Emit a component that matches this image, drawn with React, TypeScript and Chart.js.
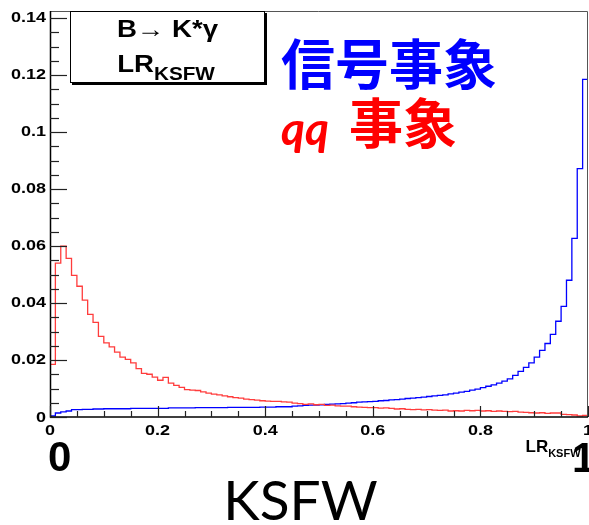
import React, { useEffect, useRef } from "react";
import { Chart, registerables } from "chart.js";

Chart.register(...registerables);

// ---- data (100 bins on [0,1]) ----
const binWidth = 0.01;

const signalValues = [
  0.0004, 0.0014, 0.0018, 0.0021, 0.0026, 0.0026, 0.0027, 0.0027, 0.0028, 0.0028,
  0.0029, 0.0029, 0.0029, 0.0029, 0.0029, 0.0030, 0.0030, 0.0030, 0.0030, 0.0030,
  0.0030, 0.0030, 0.0032, 0.0032, 0.0032, 0.0032, 0.0032, 0.0033, 0.0033, 0.0033,
  0.0033, 0.0033, 0.0033, 0.0034, 0.0034, 0.0034, 0.0034, 0.0034, 0.0034, 0.0035,
  0.0035, 0.0035, 0.0036, 0.0036, 0.0036, 0.0038, 0.0039, 0.0041, 0.0042, 0.0042,
  0.0043, 0.0044, 0.0045, 0.0046, 0.0047, 0.0049, 0.0050, 0.0052, 0.0053, 0.0054,
  0.0055, 0.0057, 0.0058, 0.0060, 0.0061, 0.0063, 0.0065, 0.0066, 0.0068, 0.0070,
  0.0072, 0.0074, 0.0076, 0.0078, 0.0081, 0.0084, 0.0087, 0.0090, 0.0094, 0.0098,
  0.0103, 0.0108, 0.0113, 0.0119, 0.0126, 0.0134, 0.0146, 0.0160, 0.0174, 0.0190,
  0.0210, 0.0234, 0.0258, 0.0290, 0.0336, 0.0388, 0.0480, 0.0627, 0.0872, 0.1185,
];

const qqValues = [
  0.0185, 0.0540, 0.0600, 0.0557, 0.0497, 0.0459, 0.0410, 0.0360, 0.0332, 0.0283,
  0.0260, 0.0246, 0.0228, 0.0210, 0.0202, 0.0190, 0.0170, 0.0153, 0.0150, 0.0140,
  0.0129, 0.0139, 0.0119, 0.0111, 0.0104, 0.0096, 0.0094, 0.0093, 0.0088, 0.0084,
  0.0080, 0.0078, 0.0074, 0.0071, 0.0068, 0.0066, 0.0063, 0.0061, 0.0059, 0.0057,
  0.0056, 0.0055, 0.0055, 0.0053, 0.0052, 0.0049, 0.0047, 0.0044, 0.0046, 0.0043,
  0.0044, 0.0041, 0.0042, 0.0039, 0.0038, 0.0038, 0.0036, 0.0035, 0.0034, 0.0033,
  0.0033, 0.0031, 0.0032, 0.0030, 0.0028, 0.0029, 0.0027, 0.0026, 0.0027, 0.0025,
  0.0026, 0.0024, 0.0023, 0.0024, 0.0021, 0.0022, 0.0021, 0.0023, 0.0022, 0.0023,
  0.0021, 0.0022, 0.0020, 0.0021, 0.0020, 0.0019, 0.0020, 0.0017, 0.0016, 0.0015,
  0.0014, 0.0015, 0.0013, 0.0014, 0.0014, 0.0009, 0.0008, 0.0007, 0.0004, 0.0006,
];

const yTickValues = [0, 0.02, 0.04, 0.06, 0.08, 0.1, 0.12, 0.14];
const yTickLabels = ["0", "0.02", "0.04", "0.06", "0.08", "0.1", "0.12", "0.14"];
const xTickValues = [0, 0.2, 0.4, 0.6, 0.8, 1];
const xTickLabels = ["0", "0.2", "0.4", "0.6", "0.8", "1"];
const yMinorStep = 0.005;
const xMinorStep = 0.05;
const yMax = 0.1425;

const toPoints = (vals: number[]) => {
  const pts = vals.map((v, i) => ({ x: i * binWidth, y: v }));
  pts.push({ x: vals.length * binWidth, y: vals[vals.length - 1] });
  return pts;
};

const ROOT_FONT = '"Liberation Sans", Arial, sans-serif';

function stretchText(
  ctx: CanvasRenderingContext2D,
  text: string,
  x: number,
  y: number,
  font: string,
  align: CanvasTextAlign,
  baseline: CanvasTextBaseline,
  sx: number,
  color = "#000"
) {
  ctx.save();
  ctx.font = font;
  ctx.fillStyle = color;
  ctx.textAlign = align;
  ctx.textBaseline = baseline;
  ctx.translate(x, y);
  ctx.scale(sx, 1);
  ctx.fillText(text, 0, 0);
  ctx.restore();
}

const decorPlugin = {
  id: "rootDecor",
  afterDatasetsDraw(chart: any) {
    const ctx: CanvasRenderingContext2D = chart.ctx;
    const { left, right, top, bottom } = chart.chartArea;
    const xs = chart.scales.x;
    const ys = chart.scales.y;

    ctx.save();
    // frame
    ctx.strokeStyle = "#555";
    ctx.lineWidth = 1;
    ctx.beginPath();
    ctx.moveTo(left, top + 0.5);
    ctx.lineTo(right - 0.5, top + 0.5);
    ctx.lineTo(right - 0.5, bottom);
    ctx.stroke();

    // axes
    ctx.strokeStyle = "#000";
    ctx.lineWidth = 1.5;
    ctx.beginPath();
    ctx.moveTo(left + 0.5, top);
    ctx.lineTo(left + 0.5, bottom);
    ctx.lineTo(right, bottom);
    ctx.stroke();

    // y ticks (inside)
    ctx.strokeStyle = "#222";
    ctx.lineWidth = 1.2;
    const nY = Math.round(0.14 / yMinorStep);
    for (let k = 0; k <= nY; k++) {
      const py = Math.round(ys.getPixelForValue(k * yMinorStep)) + 0.5;
      const len = k % 4 === 0 ? 17 : 9;
      ctx.beginPath();
      ctx.moveTo(left, py);
      ctx.lineTo(left + len, py);
      ctx.stroke();
    }
    // x ticks (inside)
    const nX = Math.round(1 / xMinorStep);
    for (let k = 0; k <= nX; k++) {
      const px = Math.round(xs.getPixelForValue(k * xMinorStep)) + 0.5;
      const len = k % 4 === 0 ? 11 : 6;
      ctx.beginPath();
      ctx.moveTo(px, bottom);
      ctx.lineTo(px, bottom - len);
      ctx.stroke();
    }
    ctx.restore();

    // y labels
    yTickValues.forEach((v, i) => {
      const py = ys.getPixelForValue(v) + (v === 0 ? 1 : 0);
      stretchText(ctx, yTickLabels[i], 46, py, `bold 15px ${ROOT_FONT}`, "right", "middle", 1.2);
    });
    // x labels
    xTickValues.forEach((v, i) => {
      const px = xs.getPixelForValue(v);
      stretchText(ctx, xTickLabels[i], px, bottom + 14, `bold 15px ${ROOT_FONT}`, "center", "middle", 1.2);
    });

    // x-axis title LR_KSFW
    ctx.save();
    ctx.fillStyle = "#000";
    ctx.textBaseline = "alphabetic";
    ctx.textAlign = "left";
    ctx.font = `bold 17px ${ROOT_FONT}`;
    ctx.fillText("LR", 525.5, 451.5);
    const lrW = ctx.measureText("LR").width;
    ctx.font = `bold 11px ${ROOT_FONT}`;
    ctx.fillText("KSFW", 525.5 + lrW, 457);
    ctx.restore();

    // big 0 and 1
    ctx.save();
    ctx.fillStyle = "#000";
    ctx.font = `bold 42px ${ROOT_FONT}`;
    ctx.textBaseline = "alphabetic";
    ctx.textAlign = "left";
    ctx.fillText("0", 48, 471);
    ctx.fillText("1", 572, 472);
    ctx.restore();

    // KSFW big title
    ctx.save();
    ctx.fillStyle = "#000";
    ctx.font = `55px Lato, "Open Sans", sans-serif`;
    ctx.textAlign = "center";
    ctx.textBaseline = "alphabetic";
    ctx.fillText("KSFW", 300.5, 520);
    ctx.restore();

    // info box
    ctx.save();
    ctx.fillStyle = "#000";
    ctx.fillRect(72, 13, 195, 72);
    ctx.fillStyle = "#fff";
    ctx.fillRect(70, 11, 195, 72);
    ctx.strokeStyle = "#000";
    ctx.lineWidth = 1;
    ctx.strokeRect(70.5, 11.5, 194, 71);
    ctx.restore();

    const sxBox = 1.15;
    ctx.save();
    ctx.font = `bold 24px ${ROOT_FONT}`;
    const line1 = "B\u2192 K*\u03b3";
    const w1 = ctx.measureText(line1).width * sxBox;
    ctx.restore();
    stretchText(ctx, line1, 167.5 - w1 / 2, 36.5, `bold 24px ${ROOT_FONT}`, "left", "alphabetic", sxBox);

    ctx.save();
    ctx.font = `bold 24px ${ROOT_FONT}`;
    const wLR = ctx.measureText("LR").width * sxBox;
    ctx.font = `bold 18px ${ROOT_FONT}`;
    const wSub = ctx.measureText("KSFW").width * sxBox;
    ctx.restore();
    const x0 = 166 - (wLR + wSub) / 2;
    stretchText(ctx, "LR", x0, 72, `bold 24px ${ROOT_FONT}`, "left", "alphabetic", sxBox);
    stretchText(ctx, "KSFW", x0 + wLR, 80, `bold 18px ${ROOT_FONT}`, "left", "alphabetic", sxBox);

    // Chinese/Japanese annotations
    ctx.save();
    ctx.textAlign = "left";
    ctx.textBaseline = "alphabetic";
    ctx.fillStyle = "#0000ff";
    ctx.font = `bold 54px "Noto Sans CJK JP", "Noto Sans CJK SC", sans-serif`;
    ctx.fillText("信号事象", 281, 85);
    ctx.fillStyle = "#ff0000";
    ctx.font = `italic bold 46px Lato, "Open Sans", sans-serif`;
    ctx.fillText("qq", 281, 145);
    ctx.font = `bold 54px "Noto Sans CJK JP", "Noto Sans CJK SC", sans-serif`;
    ctx.fillText("事象", 349, 144);
    ctx.restore();
  },
};

export default function App() {
  const canvasRef = useRef<HTMLCanvasElement | null>(null);

  useEffect(() => {
    document.body.style.margin = "0";
    const canvas = canvasRef.current;
    if (!canvas) return;
    const chart = new Chart(canvas, {
      type: "line",
      data: {
        datasets: [
          {
            label: "qq",
            data: toPoints(qqValues),
            borderColor: "#ff3c3c",
            borderWidth: 1.3,
            stepped: true,
            pointRadius: 0,
            fill: false,
          },
          {
            label: "signal",
            data: toPoints(signalValues),
            borderColor: "#0000ff",
            borderWidth: 1.3,
            stepped: true,
            pointRadius: 0,
            fill: false,
          },
        ],
      },
      options: {
        responsive: false,
        animation: false,
        parsing: false as any,
        layout: { padding: { left: 50, top: 11, right: 1, bottom: 108 } },
        scales: {
          x: { type: "linear", min: 0, max: 1, display: false },
          y: { type: "linear", min: 0, max: yMax, display: false },
        },
        plugins: {
          legend: { display: false },
          tooltip: { enabled: false },
        },
      },
      plugins: [decorPlugin],
    });
    return () => chart.destroy();
  }, []);

  return (
    <canvas
      ref={canvasRef}
      width={589}
      height={525}
      style={{ display: "block", width: 589, height: 525 }}
    />
  );
}
